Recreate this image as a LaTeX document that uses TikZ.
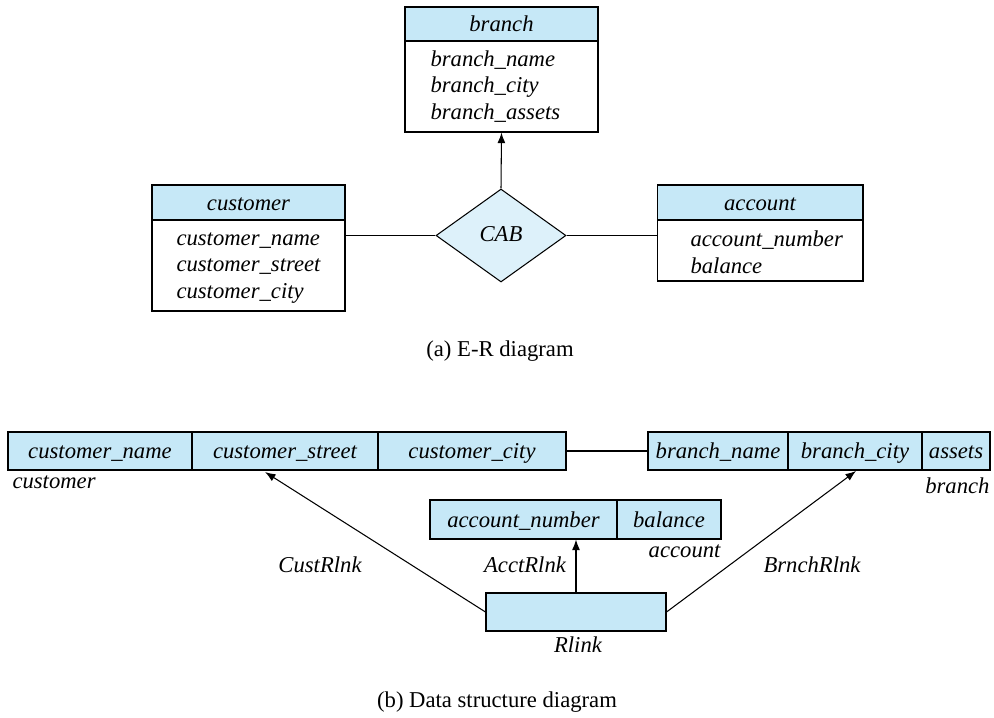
\documentclass[tikz,border=0pt]{standalone}
\usepackage{fontspec}
\setmainfont{Liberation Serif}
\usetikzlibrary{shapes.geometric, arrows.meta}
\definecolor{hdblue}{HTML}{C6E8F7}
\definecolor{relblue}{HTML}{DDF1FA}
\tikzset{every picture/.style = {x=0.02cm, y=-0.02cm, line width=0.6pt}}
\tikzset{hd/.style = {draw, fill=hdblue, inner sep=0, text height=9pt, text depth=0pt,
  font=\fontsize{12.9}{15}\selectfont\itshape}}
\tikzset{bd/.style = {draw, fill=white, inner sep=0}}
\tikzset{att/.style = {anchor=west, inner sep=0, align=left, font=\fontsize{12.9}{15.1pt}\selectfont\itshape}}
\tikzset{lbl/.style = {inner sep=0, font=\fontsize{12.9}{15}\selectfont\itshape}}
\tikzset{tip/.style = {-{Latex[length=6pt, width=4.5pt]}}}

\begin{document}
\begin{tikzpicture}
  \useasboundingbox (0, 0) rectangle (994, 717);
  % (a) E-R diagram
  \node[hd, minimum width=3.86cm, minimum height=0.68cm] (bh) at (501.5, 24) {branch};
  \node[bd, minimum width=3.86cm, minimum height=1.82cm] (bb) at (501.5, 86.5) {};
  \node[att] (ba) at (430, 86.5) {branch\_name\\branch\_city\\branch\_assets};
  \node[hd, minimum width=3.86cm, minimum height=0.70cm] (ch) at (248.5, 202.5) {customer};
  \node[bd, minimum width=3.86cm, minimum height=1.82cm] (cb) at (248.5, 265.5) {};
  \node[att] (ca) at (176, 268) {customer\_name\\customer\_street\\customer\_city};
  \node[hd, minimum width=4.12cm, minimum height=0.70cm] (ah) at (760, 202.5) {account};
  \node[bd, minimum width=4.12cm, minimum height=1.22cm] (ab) at (760, 250.5) {};
  \node[att] (aa) at (690, 252) {account\_number\\balance};
  \node[hd, shape=diamond, fill=relblue, aspect=1.4, text height=7pt, text depth=0pt,
    minimum width=2.6cm, minimum height=1.86cm] (cab) at (501, 235.5) {CAB};
  \draw (cab.west -| cb.east) -- (cab.west);
  \draw (cab.east) -- (cab.east -| ab.west);
  \draw[tip] (cab.north) -- (bb.south);
  \node[font=\fontsize{12.9}{15}\selectfont] (capa) at (500, 351) {(a) E-R diagram};
  % (b) Data structure diagram
  \node[hd, minimum width=3.68cm, minimum height=0.76cm] (cn) at (100, 451) {customer\_name};
  \node[hd, minimum width=3.72cm, minimum height=0.76cm] (cs) at (285, 451) {customer\_street};
  \node[hd, minimum width=3.76cm, minimum height=0.76cm] (cc) at (472, 451) {customer\_city};
  \node[hd, minimum width=2.80cm, minimum height=0.76cm] (bn) at (718, 451) {branch\_name};
  \node[hd, minimum width=2.68cm, minimum height=0.76cm] (bc) at (855, 451) {branch\_city};
  \node[hd, minimum width=1.36cm, minimum height=0.76cm] (bs) at (956, 451) {assets};
  \node[hd, minimum width=3.74cm, minimum height=0.78cm] (an) at (523.5, 519.5) {account\_number};
  \node[hd, minimum width=2.08cm, minimum height=0.78cm] (al) at (669, 519.5) {balance};
  \node[hd, minimum width=3.60cm, minimum height=0.76cm] (rl) at (576, 612) {};
  \node[lbl, anchor=west] (custl) at (12, 482) {customer};
  \node[lbl, anchor=east] (brl) at (990, 486) {branch};
  \node[lbl, anchor=east] (accl) at (721, 551) {account};
  \node[lbl] (rll) at (578, 645) {Rlink};
  \coordinate (ct) at (265, 472);
  \coordinate (bt) at (856, 471);
  \draw (cc.east) -- (bn.west);
  \draw[tip] (rl.west) -- (ct);
  \draw[tip] (rl.east) -- (bt);
  \draw[tip] (rl.north -| 576, 0) -- (an.south -| 576, 0);
  \node[lbl] (crl) at (320, 565) {CustRlnk};
  \node[lbl] (arl) at (525, 565) {AcctRlnk};
  \node[lbl] (brnl) at (812, 565) {BrnchRlnk};
  \node[font=\fontsize{12.9}{15}\selectfont] (capb) at (497, 702) {(b) Data structure diagram};
\end{tikzpicture}
\end{document}
